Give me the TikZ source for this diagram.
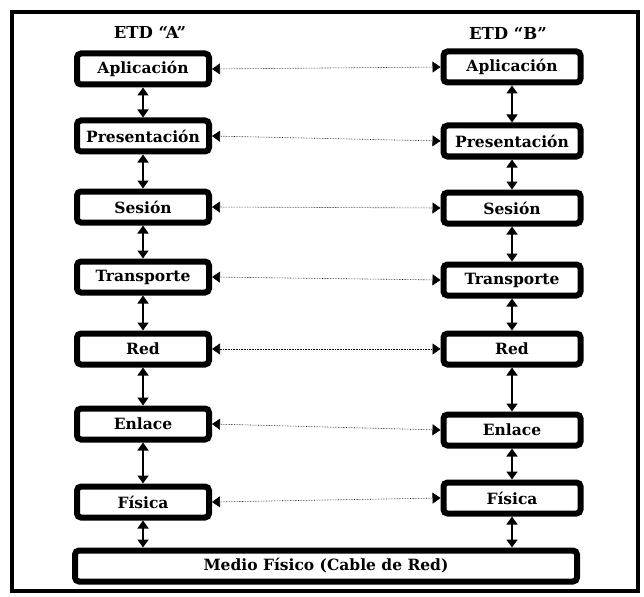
\documentclass[tikz,border=0pt]{standalone}
\usepackage{fontspec}
\setmainfont{DejaVu Serif}
\usetikzlibrary{arrows.meta}
\tikzset{
  capa/.style={draw, line width=6pt, rounded corners=4pt, fill=white,
    minimum width=132pt, minimum height=31pt, inner sep=0pt,
    font=\bfseries\fontsize{15.5}{17}\selectfont},
  capab/.style={capa, minimum width=137pt},
  titulo/.style={font=\bfseries\fontsize{16.5}{18}\selectfont},
  pila/.style={line width=1.6pt, {Triangle[length=8pt,width=11pt]}-{Triangle[length=8pt,width=11pt]}},
  par/.style={line width=0.6pt, densely dotted, {Triangle[length=8pt,width=11pt]}-{Triangle[length=8pt,width=11pt]}}
}
\begin{document}
\begin{tikzpicture}[x=1pt,y=-1pt]
      \useasboundingbox (0,0) rectangle (644,596);
      \draw[line width=4.5pt] (12,12) rectangle (638,591);
      \draw
        (150,32) node[titulo] (ta){ETD “A”}
        (508,33) node[titulo] (tb){ETD “B”}
        (143,69) node[capa] (a1){Aplicación}
        (143,136) node[capa] (a2){Presentación}
        (143,207) node[capa] (a3){Sesión}
        (143,277) node[capa] (a4){Transporte}
        (143,349) node[capa] (a5){Red}
        (143,424) node[capa] (a6){Enlace}
        (143,502) node[capa] (a7){Física}
        (512,67) node[capab] (b1){Aplicación}
        (512,141) node[capab] (b2){Presentación}
        (512,208) node[capab] (b3){Sesión}
        (512,280) node[capab] (b4){Transporte}
        (512,349) node[capab] (b5){Red}
        (512,430) node[capab] (b6){Enlace}
        (512,498) node[capab] (b7){Física}
        (326,566) node[capa, minimum width=502pt] (m){Medio Físico (Cable de Red)};
      \coordinate (ma) at (143,566);
      \coordinate (mb) at (512,566);
      \begin{scope}[pila]
        \draw (a1) to (a2);
        \draw (a2) to (a3);
        \draw (a3) to (a4);
        \draw (a4) to (a5);
        \draw (a5) to (a6);
        \draw (a6) to (a7);
        \draw (a7) to (m.north -| ma);
        \draw (b1) to (b2);
        \draw (b2) to (b3);
        \draw (b3) to (b4);
        \draw (b4) to (b5);
        \draw (b5) to (b6);
        \draw (b6) to (b7);
        \draw (b7) to (m.north -| mb);
      \end{scope}
      \begin{scope}[par]
        \draw (a1.east) to (b1.west);
        \draw (a2.east) to (b2.west);
        \draw (a3.east) to (b3.west);
        \draw (a4.east) to (b4.west);
        \draw (a5.east) to (b5.west);
        \draw (a6.east) to (b6.west);
        \draw (a7.east) to (b7.west);
      \end{scope}
    \end{tikzpicture}
\end{document}
